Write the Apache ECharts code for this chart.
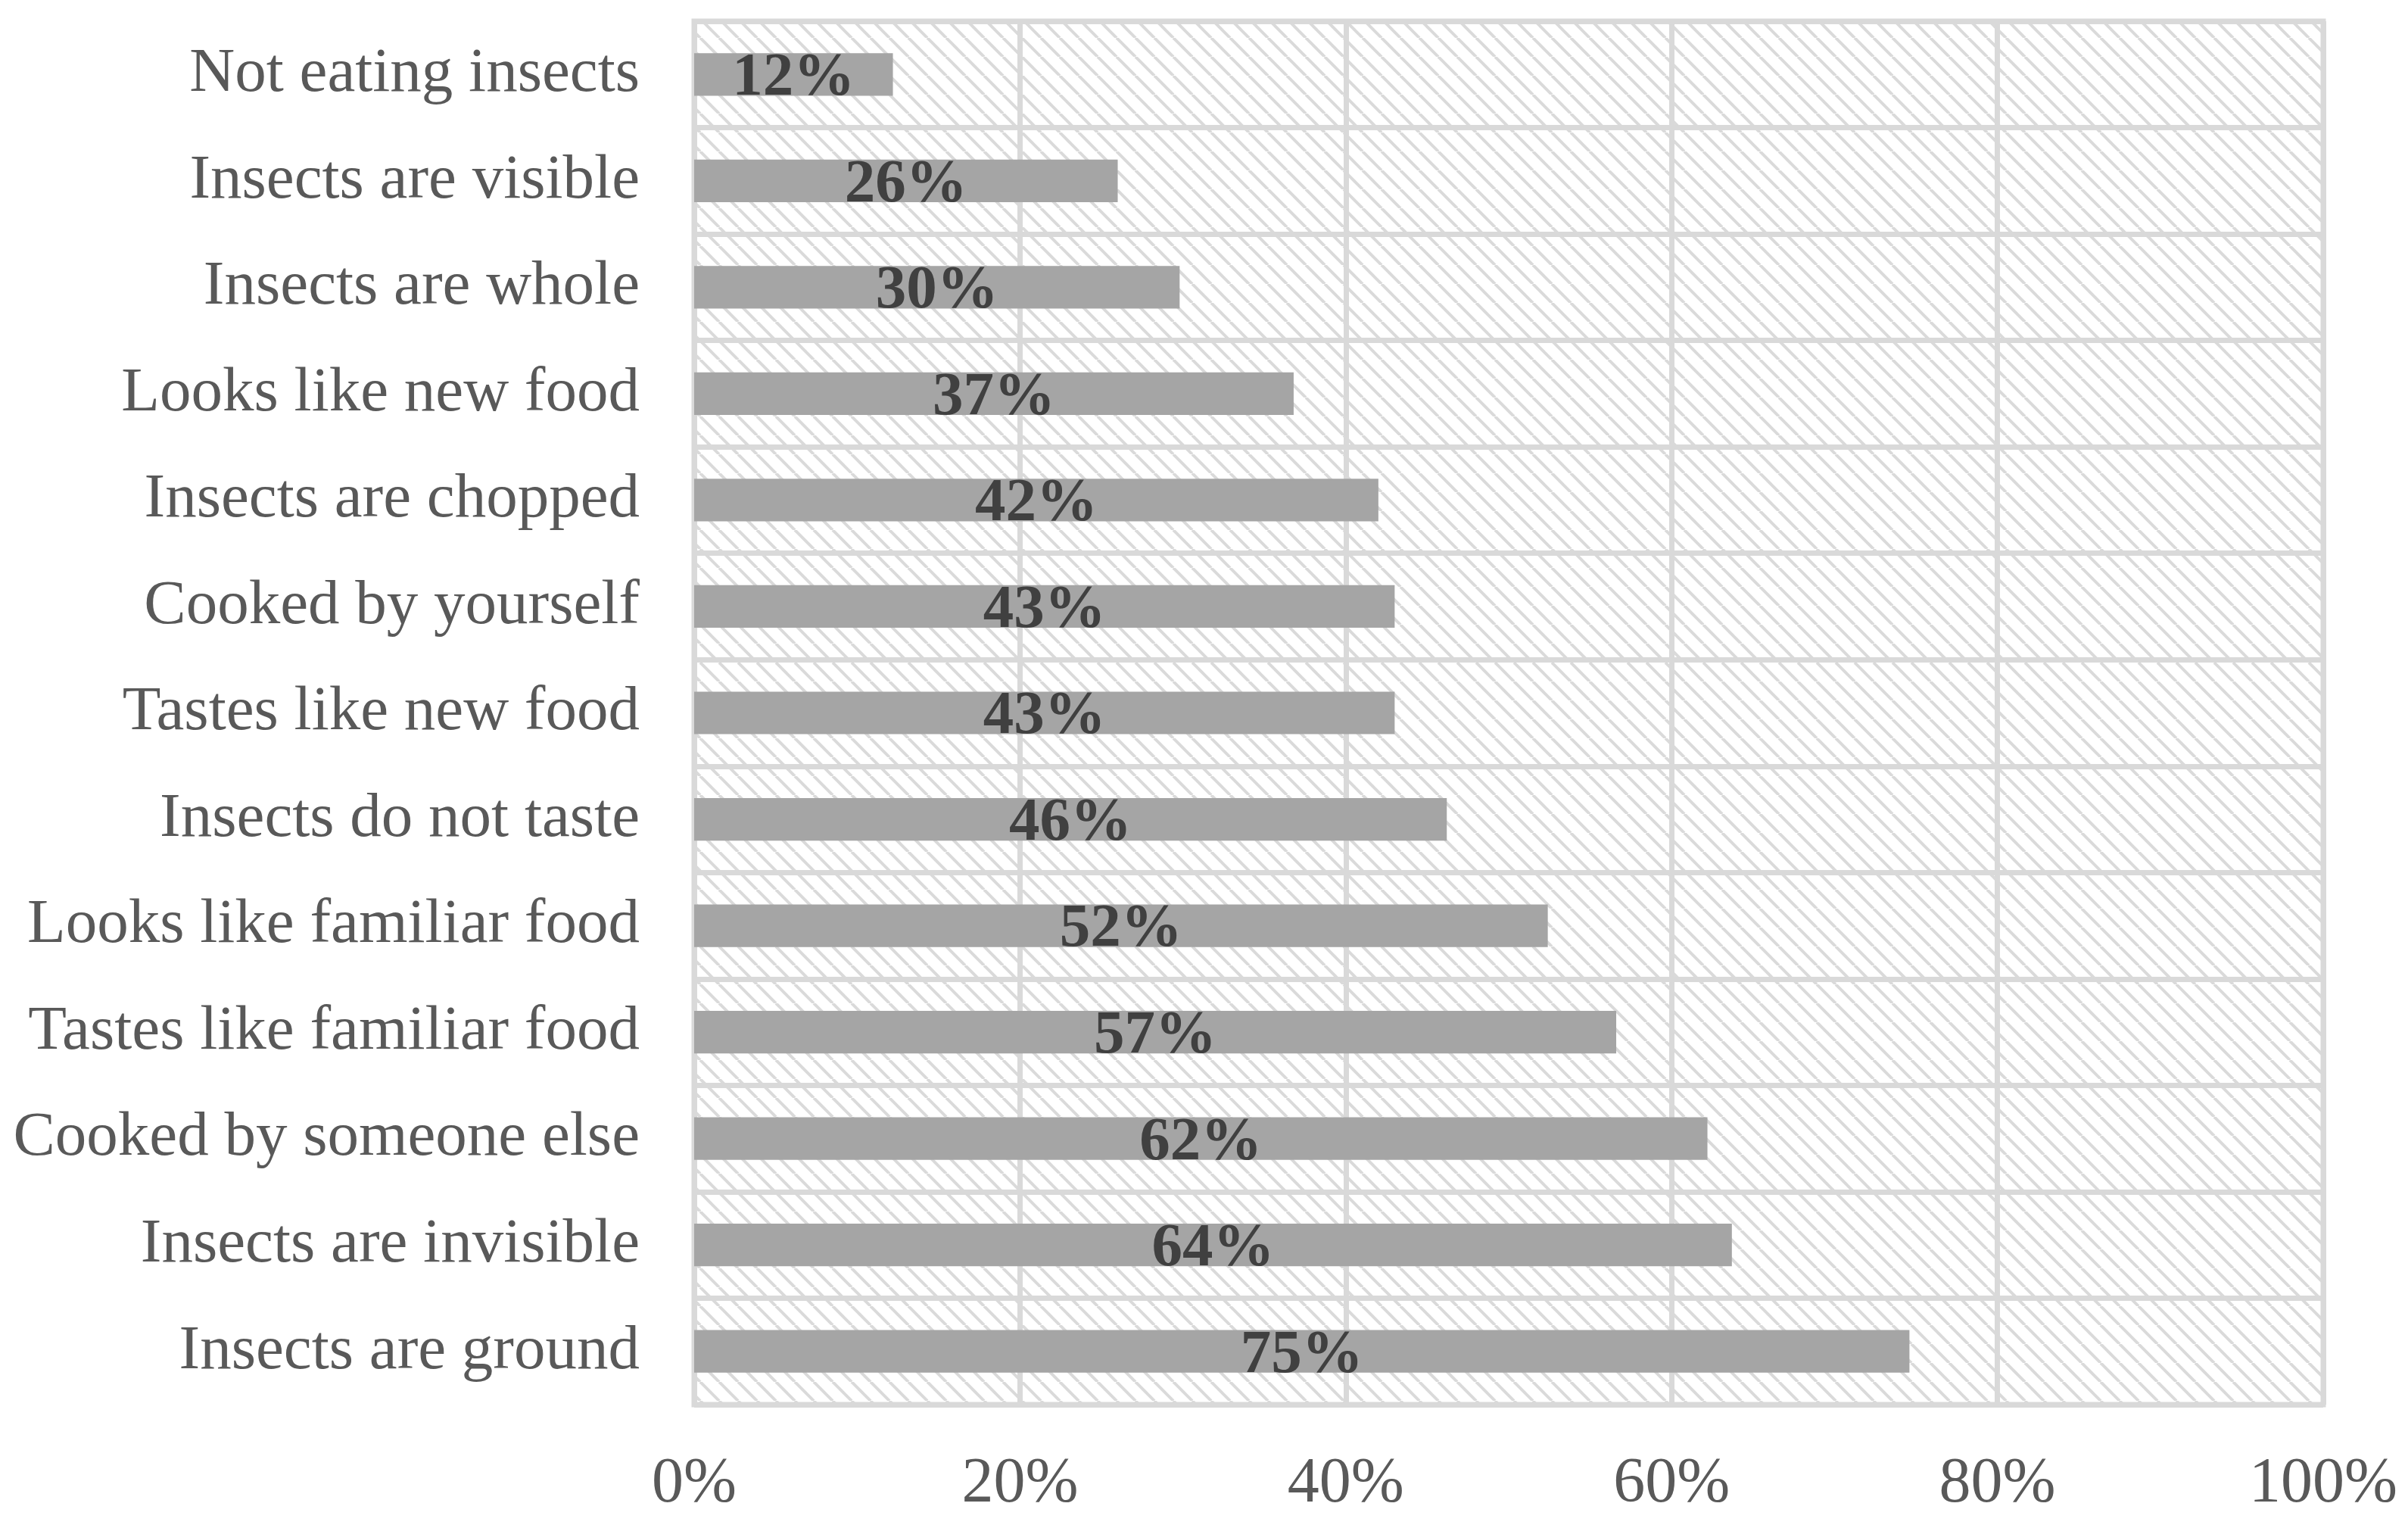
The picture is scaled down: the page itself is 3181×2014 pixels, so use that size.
<!DOCTYPE html>
<html>
<head>
<meta charset="utf-8">
<script src="https://cdn.jsdelivr.net/npm/echarts@6/dist/echarts.min.js"></script>
<style>
html,body{margin:0;padding:0;background:#fff;}
#chart{width:3181px;height:2014px;}
</style>
</head>
<body>
<div id="chart"></div>
<script>
// Data (top to bottom)
const categories = [
  'Not eating insects',
  'Insects are visible',
  'Insects are whole',
  'Looks like new food',
  'Insects are chopped',
  'Cooked by yourself',
  'Tastes like new food',
  'Insects do not taste',
  'Looks like familiar food',
  'Tastes like familiar food',
  'Cooked by someone else',
  'Insects are invisible',
  'Insects are ground'
];
const values = [12.2, 26.0, 29.8, 36.8, 42.0, 43.0, 43.0, 46.2, 52.4, 56.6, 62.2, 63.7, 74.6];
const tickLabels = ['0%', '20%', '40%', '60%', '80%', '100%'];

// Hatch pattern for plot background
function makeHatch() {
  const s = 25;
  const c = document.createElement('canvas');
  c.width = s; c.height = s;
  const ctx = c.getContext('2d');
  ctx.fillStyle = '#ffffff';
  ctx.fillRect(0, 0, s, s);
  ctx.strokeStyle = '#dadada';
  ctx.lineWidth = 4;
  for (let k = -s; k <= s; k += s) {
    ctx.beginPath();
    ctx.moveTo(k, 0);
    ctx.lineTo(k + s, s);
    ctx.stroke();
  }
  return c;
}

const font = 'Liberation Serif, Times New Roman, serif';
const chart = echarts.init(document.getElementById('chart'), null, {renderer: 'canvas'});
chart.setOption({
  animation: false,
  backgroundColor: '#ffffff',
  grid: {
    left: 917, right: 112, top: 28, bottom: 159,
    show: true,
    backgroundColor: {image: makeHatch(), repeat: 'repeat'},
    borderColor: '#d9d9d9',
    borderWidth: 7
  },
  xAxis: {
    type: 'value',
    min: 0, max: 100, interval: 20,
    axisLine: {show: false},
    axisTick: {show: false},
    splitLine: {show: true, lineStyle: {color: '#d9d9d9', width: 7}},
    axisLabel: {
      margin: 64,
      color: '#595959',
      fontFamily: font,
      fontSize: 84,
      formatter: function (v) { return tickLabels[Math.round(v / 20)]; }
    }
  },
  yAxis: {
    type: 'category',
    data: categories,
    inverse: true,
    axisLine: {show: false},
    axisTick: {show: false},
    splitLine: {show: true, lineStyle: {color: '#d9d9d9', width: 7}},
    axisLabel: {
      margin: 72,
      color: '#595959',
      fontFamily: font,
      fontSize: 83,
      padding: [14, 0, 0, 0]
    }
  },
  series: [{
    type: 'bar',
    data: values,
    barCategoryGap: '60%',
    itemStyle: {color: '#a5a5a5'},
    label: {
      show: true,
      position: 'inside',
      offset: [0, 6],
      color: '#404040',
      fontFamily: font,
      fontWeight: 'bold',
      fontSize: 81,
      formatter: function (p) { return Math.round(p.value) + '%'; }
    }
  }]
});
</script>
</body>
</html>
